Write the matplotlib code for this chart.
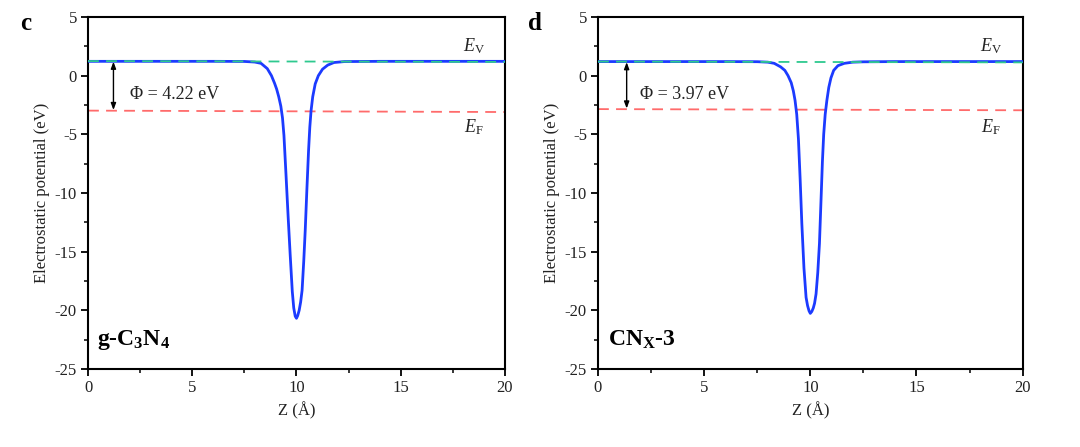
import matplotlib
matplotlib.use("Agg")
import matplotlib.pyplot as plt
from matplotlib.ticker import MultipleLocator

plt.rcParams['font.family'] = ['Liberation Serif', 'DejaVu Serif']
plt.rcParams['mathtext.fontset'] = 'custom'
plt.rcParams['mathtext.rm'] = 'Liberation Serif'
plt.rcParams['mathtext.it'] = 'Liberation Serif:italic'
plt.rcParams['mathtext.bf'] = 'Liberation Serif:bold'
plt.rcParams['axes.unicode_minus'] = False

# ---- data: panel c (g-C3N4) ----
z_c = [0, 2, 4, 6, 7.5, 8.0, 8.3, 8.6, 8.8, 8.95, 9.05, 9.15, 9.25, 9.33, 9.4, 9.5,
       9.6, 9.7, 9.8, 9.87, 9.94, 10.0, 10.06, 10.13, 10.2, 10.27, 10.35, 10.42,
       10.5, 10.58, 10.64, 10.7, 10.78, 10.9, 11.05, 11.25, 11.5, 11.8, 12.3,
       14, 16, 18, 20]
v_c = [1.22, 1.22, 1.22, 1.22, 1.21, 1.16, 1.05, 0.6, 0.0, -0.65, -1.15, -1.8,
       -2.6, -3.6, -5.1, -8.5, -12.0, -15.3, -18.4, -19.8, -20.5, -20.68, -20.45,
       -20.0, -19.3, -18.3, -15.8, -13.2, -9.7, -6.4, -4.4, -3.0, -1.8, -0.7, 0.0,
       0.55, 0.9, 1.12, 1.2, 1.22, 1.22, 1.22, 1.22]
ev_c = [1.24, 1.17]
ef_c = [-2.98, -3.1]

# ---- data: panel d (CNx-3) ----
z_d = [0, 2, 4, 6, 7.5, 8.0, 8.3, 8.6, 8.8, 8.95, 9.1, 9.2, 9.28, 9.36, 9.44,
       9.52, 9.6, 9.7, 9.8, 9.87, 9.94, 10.0, 10.07, 10.14, 10.2, 10.27, 10.35,
       10.43, 10.5, 10.57, 10.63, 10.7, 10.78, 10.87, 10.97, 11.1, 11.3, 11.6,
       12.0, 12.5, 14, 16, 18, 20]
v_d = [1.2, 1.2, 1.2, 1.2, 1.19, 1.15, 1.05, 0.75, 0.45, 0.0, -0.6, -1.3, -2.1,
       -3.3, -5.4, -8.8, -12.6, -16.4, -18.9, -19.6, -20.05, -20.26, -20.1, -19.8,
       -19.4, -18.6, -16.8, -14.3, -10.8, -7.3, -5.0, -3.3, -2.1, -1.0, -0.2, 0.45,
       0.85, 1.05, 1.15, 1.18, 1.2, 1.2, 1.2, 1.2]
ev_d = [1.2, 1.13]
ef_d = [-2.85, -2.95]

x_edges = [0, 20]
panels = [
    dict(z=z_c, v=v_c, ev=ev_c, ef=ef_c, letter='c', phi='Φ = 4.22 eV',
         name='g-C$_\\mathbf{3}$N$_\\mathbf{4}$', arrow_x=1.22,
         rect=[0.0815, 0.1745, 0.386, 0.7875]),
    dict(z=z_d, v=v_d, ev=ev_d, ef=ef_d, letter='d', phi='Φ = 3.97 eV',
         name='CN$_\\mathbf{X}$-3', arrow_x=1.35,
         rect=[0.5537, 0.1745, 0.3932, 0.7875]),
]

fig = plt.figure(figsize=(10.8, 4.47), dpi=100)
tc = '#222222'
for p in panels:
    ax = fig.add_axes(p['rect'])
    ax.plot(p['z'], p['v'], color='#1c3bff', lw=2.0, zorder=3)
    ax.plot(x_edges, p['ev'], color='#2ec98f', lw=1.3, ls=(0, (6, 4)), zorder=4)
    ax.plot(x_edges, p['ef'], color='#ff6b6b', lw=1.3, ls=(0, (6, 4)), zorder=2)
    ax.annotate('', xy=(p['arrow_x'], p['ef'][0] + 0.05), xytext=(p['arrow_x'], p['ev'][0] - 0.05),
                arrowprops=dict(arrowstyle='<|-|>,head_length=0.4,head_width=0.15',
                                color='black', lw=1.0, shrinkA=0, shrinkB=0))
    ax.text(2.0, -1.6, p['phi'], fontsize=13, color=tc, va='center', ha='left')
    ax.text(18.5, 2.5, r'$E_\mathrm{V}$', fontsize=13, color=tc, ha='center', va='center')
    ax.text(18.5, -4.4, r'$E_\mathrm{F}$', fontsize=13, color=tc, ha='center', va='center')
    ax.text(0.45, -22.5, p['name'], fontsize=17, fontweight='bold', color='black',
            ha='left', va='center')
    ax.set_xlim(0, 20)
    ax.set_ylim(-25, 5)
    ax.xaxis.set_major_locator(MultipleLocator(5))
    ax.xaxis.set_minor_locator(MultipleLocator(2.5))
    ax.yaxis.set_major_locator(MultipleLocator(5))
    ax.yaxis.set_minor_locator(MultipleLocator(2.5))
    ax.tick_params(which='major', direction='out', length=5, width=1.3,
                   labelsize=12, labelcolor=tc, pad=3)
    ax.tick_params(which='minor', direction='out', length=3, width=1.1)
    for s in ax.spines.values():
        s.set_linewidth(1.5)
    ax.set_xlabel('Z (Å)', fontsize=12, color=tc, labelpad=4)
    ax.set_ylabel('Electrostatic potential (eV)', fontsize=12, color=tc, labelpad=3)
    fig.text(p['rect'][0] - 0.058, 0.948, p['letter'], fontsize=18, fontweight='bold',
             ha='center', va='center')

fig.savefig('out.png', dpi=100)
